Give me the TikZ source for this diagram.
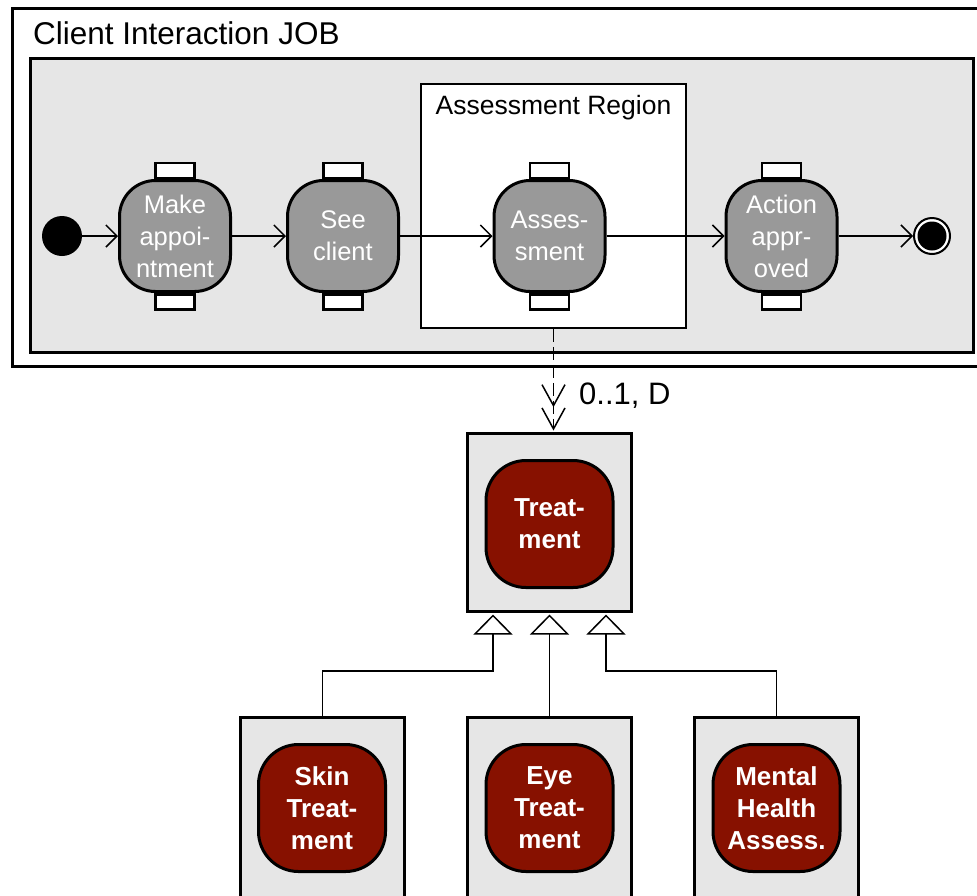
\documentclass[tikz,border=0pt]{standalone}
\usepackage{fontspec}
\setmainfont{Liberation Sans}
\usetikzlibrary{arrows.meta,calc}
\definecolor{framegray}{HTML}{E6E6E6}
\definecolor{actgray}{HTML}{999999}
\definecolor{darkred}{HTML}{871100}

\begin{document}
\begin{tikzpicture}[x=1pt,y=-1pt,
  frame/.style={draw=black,line width=3pt},
  action/.style={draw=black,line width=3pt,fill=actgray,rounded corners=36pt,
    minimum width=111pt,minimum height=111pt,inner sep=0pt,text=white,
    align=center,font=\fontsize{25.5}{32}\selectfont},
  pinbox/.style={draw=black,line width=2.5pt,fill=white,minimum width=39pt,
    minimum height=15pt,inner sep=0pt},
  flow/.style={line width=1.5pt,-{Straight Barb[length=11pt,width=22pt]}},
  classbox/.style={draw=black,line width=3pt,fill=framegray,minimum width=164pt,
    inner sep=0pt},
  kind/.style={draw=black,line width=3pt,fill=darkred,rounded corners=40pt,
    minimum size=127pt,inner sep=0pt,text=white,align=center,
    font=\bfseries\fontsize{26}{32}\selectfont},
  gen/.style={line width=1.5pt,-{Triangle[length=20pt,width=39pt,fill=white]}},
]
\path[use as bounding box] (0,0) rectangle (977,895);
\clip (0,0) rectangle (977,895);

% job frame and its activity area
\draw[frame,fill=white] (12,8) rectangle (995,366);
\draw[frame,fill=framegray] (30,58) rectangle (973,352);
\node[anchor=base west,inner sep=0pt,font=\fontsize{31.5}{36}\selectfont]
  (job-title) at (33,44) {Client Interaction JOB};

% assessment region
\node[draw=black,line width=1.5pt,fill=white,minimum width=265pt,
  minimum height=244pt,inner sep=0pt] (region) at (553.5,206) {};
\node[anchor=base,inner sep=0pt,font=\fontsize{26.5}{30}\selectfont]
  (region-title) at (553.5,114) {Assessment Region};

% start and end
\node[circle,fill=black,minimum size=40pt,inner sep=0pt] (init) at (62,236) {};
\node[circle,draw=black,line width=2pt,fill=white,minimum size=36pt,
  inner sep=0pt] (fin) at (932,236) {};
\node[circle,fill=black,minimum size=29pt,inner sep=0pt] (fin-dot) at (fin.center) {};

% actions
\node[action] (mk) at (175,236) {Make\\appoi-\\ntment};
\node[action] (see) at (343,236) {See\\client};
\node[action] (ass) at (549.5,236) {Asses-\\sment};
\node[action] (act) at (781.5,236) {Action\\appr-\\oved};

\foreach \a in {mk,see,ass,act}{
  \node[pinbox,anchor=south] (\a-in) at (\a.north) {};
  \node[pinbox,anchor=north] (\a-out) at (\a.south) {};
}

% control flow
\draw[flow] (init) -- (mk);
\draw[flow] (mk) -- (see);
\draw[flow] (see) -- (ass);
\draw[flow] (ass) -- (act);
\draw[flow] (act) -- (fin);

% treatment hierarchy
\node[classbox,minimum height=178pt] (treat-box) at (549.5,522.5) {};
\node[kind] (treat) at (549.5,524) {Treat-\\ment};

\node[classbox,minimum height=260pt] (skin-box) at (322.5,847.5) {};
\node[kind] (skin) at (322,808) {Skin\\Treat-\\ment};
\node[classbox,minimum height=260pt] (eye-box) at (549.5,847.5) {};
\node[kind] (eye) at (549.5,808) {Eye\\Treat-\\ment};
\node[classbox,minimum height=260pt] (mental-box) at (776.5,847.5) {};
\node[kind] (mental) at (776.5,808) {Mental\\Health\\Assess.};

% region refers to treatment
\draw[line width=1.5pt,dash pattern=on 13pt off 5pt,
  -{Straight Barb[length=21pt,width=23pt,sep=0pt] Straight Barb[length=21pt,width=23pt]}]
  (region.south) -- ($(region.south |- treat-box.north)+(0,-1.5)$);
\node[anchor=base west,inner sep=0pt,font=\fontsize{31}{36}\selectfont]
  (mult) at (579,404) {0..1, D};

% generalisations
\draw[gen] (skin-box.north) |- ($(treat-box.south)+(-56.5,58)$)
  -- ($(treat-box.south)+(-56.5,1.5)$);
\draw[gen] (eye-box.north) -- ($(treat-box.south)+(0,1.5)$);
\draw[gen] (mental-box.north) |- ($(treat-box.south)+(56.5,58)$)
  -- ($(treat-box.south)+(56.5,1.5)$);
\end{tikzpicture}
\end{document}
